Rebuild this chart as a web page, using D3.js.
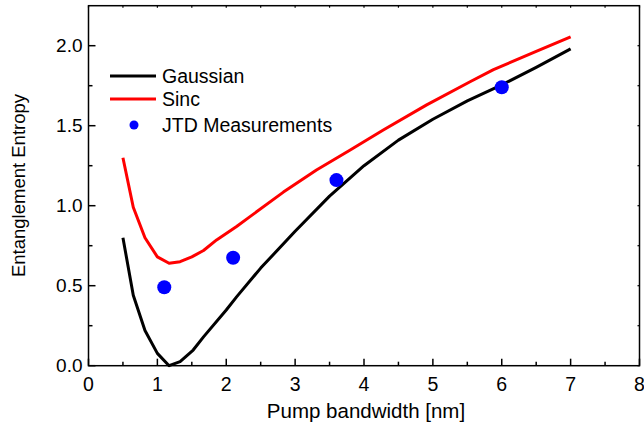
<!DOCTYPE html>
<html>
<head>
<meta charset="utf-8">
<script src="https://cdn.jsdelivr.net/npm/d3@7"></script>
<style>
body { margin: 0; background: #fff; }
text { font-family: "Liberation Sans", Arial, sans-serif; fill: #000; }
</style>
</head>
<body>
<div id="chart"></div>
<script>
var width = 644;
var height = 426;

// curves
var gaussX = [0.5, 0.65, 0.82, 1.0, 1.17, 1.33, 1.52, 1.67, 2.0, 2.15, 2.5, 3.0, 3.5, 4.0, 4.5, 5.0, 5.5, 6.0, 6.5, 7.0];
var gaussY = [0.80, 0.44, 0.22, 0.077, 0.0, 0.025, 0.098, 0.18, 0.348, 0.43, 0.61, 0.84, 1.06, 1.25, 1.41, 1.54, 1.655, 1.755, 1.865, 1.98];
var sincX = [0.5, 0.65, 0.82, 1.0, 1.17, 1.33, 1.5, 1.67, 1.86, 2.15, 2.34, 2.83, 3.31, 3.8, 4.28, 4.91, 5.54, 5.88, 6.5, 7.0];
var sincY = [1.30, 0.99, 0.80, 0.68, 0.64, 0.65, 0.68, 0.72, 0.786, 0.87, 0.93, 1.085, 1.223, 1.348, 1.473, 1.63, 1.775, 1.85, 1.965, 2.055];
var measX = [1.1, 2.1, 3.6, 6.0];
var measY = [0.49, 0.675, 1.16, 1.74];

var xTicks = [0, 1, 2, 3, 4, 5, 6, 7, 8];
var yTicks = [0, 0.5, 1.0, 1.5, 2.0];
var seriesNames = ["Gaussian", "Sinc", "JTD Measurements"];
var colors = ["#000000", "#ff0000", "#0000ff"];

var svg = d3.select("#chart").append("svg")
  .attr("width", width)
  .attr("height", height);

var x = d3.scaleLinear().domain([0, 8]).range([88.5, 639.5]);
var y = d3.scaleLinear().domain([0, 2.25]).range([365.7, 5.7]);

// frame
svg.append("rect")
  .attr("x", x(0)).attr("y", y(2.25))
  .attr("width", x(8) - x(0)).attr("height", y(0) - y(2.25))
  .attr("fill", "none").attr("stroke", "#000").attr("stroke-width", 1.5);

// bottom axis (ticks inward)
var xMinor = d3.range(0.5, 8, 1);
var gx = svg.append("g").attr("transform", "translate(0," + y(0) + ")");
gx.selectAll(".maj").data(xTicks).enter().append("line")
  .attr("x1", d => x(d)).attr("x2", d => x(d))
  .attr("y1", 0).attr("y2", -7).attr("stroke", "#000").attr("stroke-width", 1.5);
gx.selectAll(".min").data(xMinor).enter().append("line")
  .attr("x1", d => x(d)).attr("x2", d => x(d))
  .attr("y1", 0).attr("y2", -4).attr("stroke", "#000").attr("stroke-width", 1.5);
gx.selectAll("text").data(xTicks).enter().append("text")
  .attr("x", d => x(d)).attr("y", 25)
  .attr("text-anchor", "middle").attr("font-size", 19.5)
  .text(d => d3.format("d")(d));

// top ticks, tiny
svg.append("g").selectAll("line").data(xTicks.concat(xMinor)).enter().append("line")
  .attr("x1", d => x(d)).attr("x2", d => x(d))
  .attr("y1", y(2.25)).attr("y2", y(2.25) + 2)
  .attr("stroke", "#000").attr("stroke-width", 1.2);

// left axis
var yMinor = d3.range(0.25, 2.25, 0.5);
var gy = svg.append("g").attr("transform", "translate(" + x(0) + ",0)");
gy.selectAll(".maj").data(yTicks).enter().append("line")
  .attr("y1", d => y(d)).attr("y2", d => y(d))
  .attr("x1", 0).attr("x2", 7).attr("stroke", "#000").attr("stroke-width", 1.5);
gy.selectAll(".min").data(yMinor).enter().append("line")
  .attr("y1", d => y(d)).attr("y2", d => y(d))
  .attr("x1", 0).attr("x2", 4).attr("stroke", "#000").attr("stroke-width", 1.5);
gy.selectAll("text").data(yTicks).enter().append("text")
  .attr("x", -6).attr("y", d => y(d)).attr("dy", "0.35em")
  .attr("text-anchor", "end").attr("font-size", 19)
  .text(d => d3.format(".1f")(d));

// right ticks, tiny
svg.append("g").selectAll("line").data(yTicks.concat(yMinor)).enter().append("line")
  .attr("y1", d => y(d)).attr("y2", d => y(d))
  .attr("x1", x(8)).attr("x2", x(8) - 2)
  .attr("stroke", "#000").attr("stroke-width", 1.2);

// axis titles
svg.append("text")
  .attr("x", (x(0) + x(8)) / 2 + 2).attr("y", 418)
  .attr("text-anchor", "middle").attr("font-size", 20.5)
  .text("Pump bandwidth [nm]");
svg.append("text")
  .attr("transform", "translate(25,185.5) rotate(-90)")
  .attr("text-anchor", "middle").attr("font-size", 18.5)
  .text("Entanglement Entropy");

// curves
var line = d3.line().x(d => x(d[0])).y(d => y(d[1]));
svg.append("path")
  .datum(d3.zip(gaussX, gaussY))
  .attr("d", line).attr("fill", "none")
  .attr("stroke", colors[0]).attr("stroke-width", 3).attr("stroke-linejoin", "round");
svg.append("path")
  .datum(d3.zip(sincX, sincY))
  .attr("d", line).attr("fill", "none")
  .attr("stroke", colors[1]).attr("stroke-width", 3).attr("stroke-linejoin", "round");

svg.append("g").selectAll("circle").data(d3.zip(measX, measY)).enter().append("circle")
  .attr("cx", d => x(d[0])).attr("cy", d => y(d[1]))
  .attr("r", 7).attr("fill", colors[2]);

// legend
var legend = svg.append("g");
var rowY = [76, 99, 125];
seriesNames.forEach(function (name, i) {
  if (i < 2) {
    legend.append("line")
      .attr("x1", 110).attr("x2", 156).attr("y1", rowY[i]).attr("y2", rowY[i])
      .attr("stroke", colors[i]).attr("stroke-width", 3);
  } else {
    legend.append("circle")
      .attr("cx", 134).attr("cy", rowY[i]).attr("r", 4.5).attr("fill", colors[i]);
  }
  legend.append("text")
    .attr("x", 162).attr("y", rowY[i]).attr("dy", "0.35em")
    .attr("font-size", 19.5)
    .text(name);
});
</script>
</body>
</html>
